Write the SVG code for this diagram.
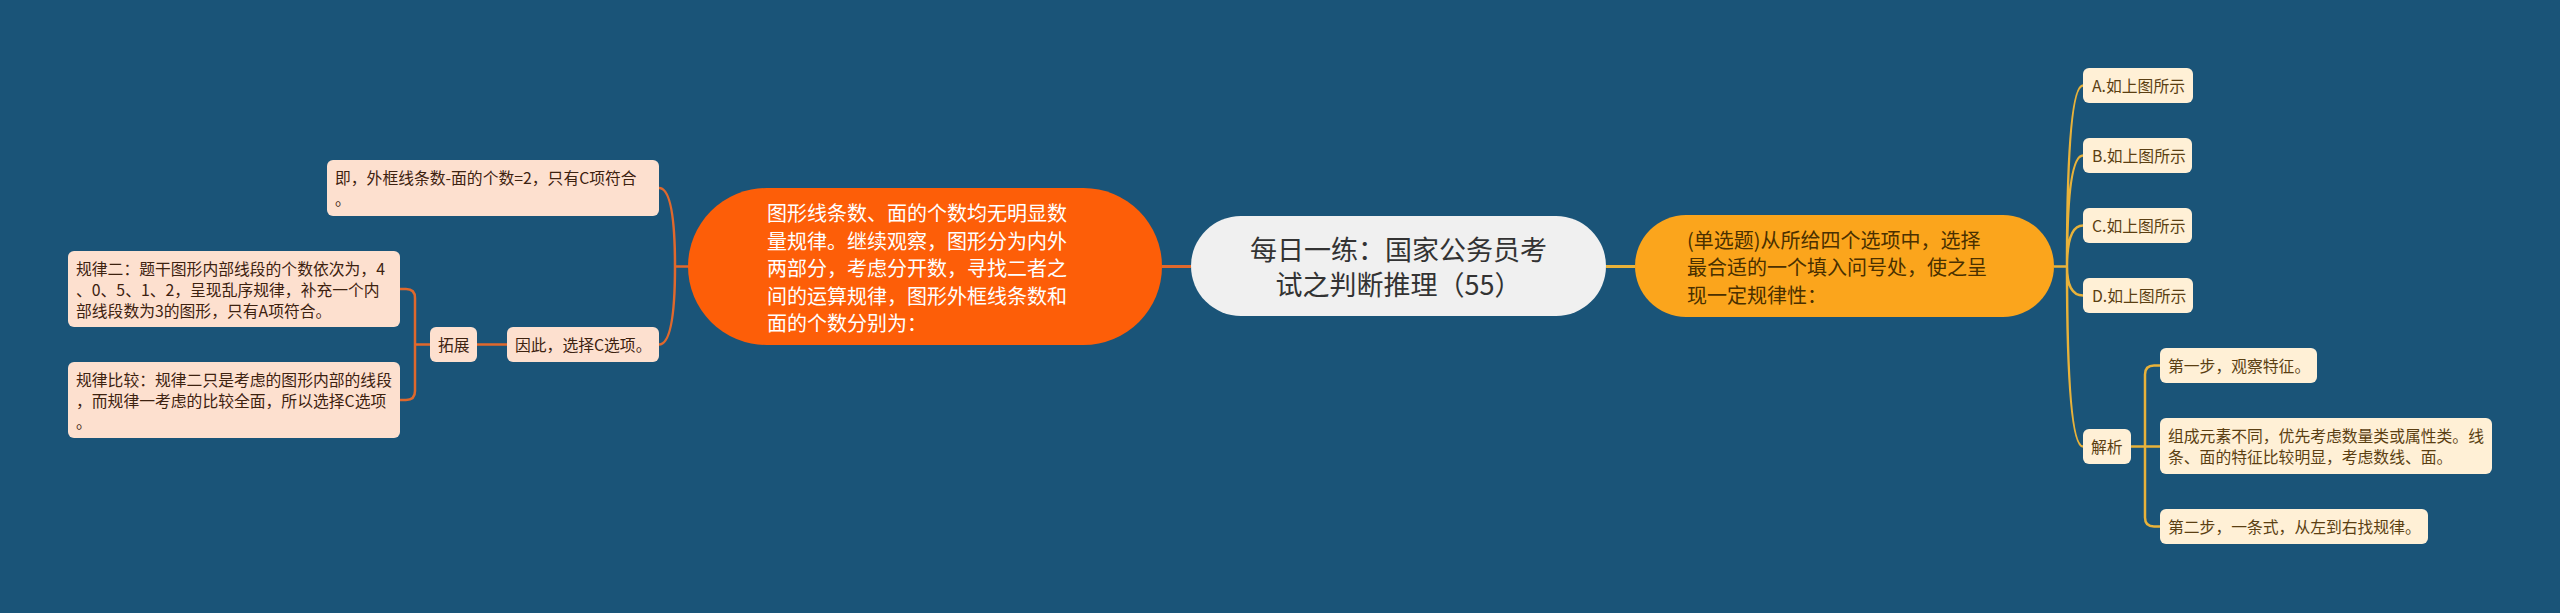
<svg xmlns="http://www.w3.org/2000/svg" width="2560" height="613" viewBox="0 0 2560 613">
<style>
text{font-family:"Noto Sans CJK SC","Microsoft YaHei",sans-serif}
.lo{fill:none;stroke:#e0682c;stroke-width:2.5}
.ly{fill:none;stroke:#e8b23a;stroke-width:2.5}
.bl{fill:#fde0cf}
.br{fill:#fff0d6}
.tl{font-size:15.8px;fill:#3d2210}
.tr{font-size:15.8px;fill:#5b3f12}
</style>
<rect width="2560" height="613" fill="#1a5478"/>
<g id="connectors">
<path class="lo" d="M1162 266.5H1191" style="stroke-width:3"/>
<path class="ly" d="M1606 266.5H1635" style="stroke-width:3"/>
<path class="lo" d="M688 266.5H675M675 266.5Q675 188 659 188M675 266.5Q675 344.5 659 344.5"/>
<path class="lo" d="M507 344.5H477"/>
<path class="lo" d="M430 344.5H415M415 344.5V298Q415 289 406 289H400M415 344.5V391Q415 400 406 400H400"/>
<path class="ly" d="M2054 266.5H2067M2067 266.5Q2067 85.5 2083 85.5M2067 266.5Q2067 155.5 2083 155.5M2067 266.5Q2067 225.5 2083 225.5M2067 266.5Q2067 295.5 2083 295.5M2067 266.5Q2067 446.5 2083 446.5"/>
<path class="ly" d="M2131 446.5H2160M2145 446.5V374.5Q2145 365.5 2154 365.5H2160M2145 446.5V517.5Q2145 526.5 2154 526.5H2160"/>
</g>
<g id="center">
<rect x="1191" y="216" width="415" height="100" rx="50" fill="#f0f0f0"/>
<text x="1398.5" y="260" font-size="27" fill="#333" text-anchor="middle">每日一练：国家公务员考</text>
<text x="1398.5" y="295" font-size="27" fill="#333" text-anchor="middle">试之判断推理（55）</text>
</g>
<g id="left-main">
<rect x="688" y="188" width="474" height="157" rx="78.5" fill="#fd5e08"/>
<text font-size="20" fill="#fff"><tspan x="767" y="221">图形线条数、面的个数均无明显数</tspan><tspan x="767" y="248.5">量规律。继续观察，图形分为内外</tspan><tspan x="767" y="276">两部分，考虑分开数，寻找二者之</tspan><tspan x="767" y="303.5">间的运算规律，图形外框线条数和</tspan><tspan x="767" y="331">面的个数分别为：</tspan></text>
</g>
<g id="node-ji">
<rect class="bl" x="327" y="160" width="332" height="56" rx="6"/>
<text class="tl"><tspan x="335" y="183.5">即，外框线条数-面的个数=2，只有C项符合</tspan><tspan x="335" y="204.5">。</tspan></text>
</g>
<g id="node-yinci">
<rect class="bl" x="507" y="327" width="152" height="35" rx="6"/>
<text class="tl" x="515" y="350.5">因此，选择C选项。</text>
</g>
<g id="node-tuozhan">
<rect class="bl" x="430" y="327" width="47" height="35" rx="6"/>
<text class="tl" x="438" y="350.5">拓展</text>
</g>
<g id="node-guilv2">
<rect class="bl" x="68" y="251" width="332" height="76" rx="6"/>
<text class="tl"><tspan x="76" y="274.5">规律二：题干图形内部线段的个数依次为，4</tspan><tspan x="76" y="295.5">、0、5、1、2，呈现乱序规律，补充一个内</tspan><tspan x="76" y="316.5">部线段数为3的图形，只有A项符合。</tspan></text>
</g>
<g id="node-bijiao">
<rect class="bl" x="68" y="362" width="332" height="76" rx="6"/>
<text class="tl"><tspan x="76" y="385.5">规律比较：规律二只是考虑的图形内部的线段</tspan><tspan x="76" y="406.5">，而规律一考虑的比较全面，所以选择C选项</tspan><tspan x="76" y="427.5">。</tspan></text>
</g>
<g id="right-main">
<rect x="1635" y="215" width="419" height="102" rx="51" fill="#fba51c"/>
<text font-size="20" fill="#4a3000"><tspan x="1687" y="247.6">(单选题)从所给四个选项中，选择</tspan><tspan x="1687" y="275.1">最合适的一个填入问号处，使之呈</tspan><tspan x="1687" y="302.6">现一定规律性：</tspan></text>
</g>
<g id="node-a">
<rect class="br" x="2083" y="68" width="110" height="35" rx="6"/>
<text class="tr" x="2092" y="91.5">A.如上图所示</text>
</g>
<g id="node-b">
<rect class="br" x="2083" y="138" width="109" height="35" rx="6"/>
<text class="tr" x="2092" y="161.5">B.如上图所示</text>
</g>
<g id="node-c">
<rect class="br" x="2083" y="208" width="109" height="35" rx="6"/>
<text class="tr" x="2092" y="231.5">C.如上图所示</text>
</g>
<g id="node-d">
<rect class="br" x="2083" y="278" width="110" height="35" rx="6"/>
<text class="tr" x="2092" y="301.5">D.如上图所示</text>
</g>
<g id="node-jiexi">
<rect class="br" x="2083" y="429" width="48" height="35" rx="6"/>
<text class="tr" x="2091" y="452.5">解析</text>
</g>
<g id="node-step1">
<rect class="br" x="2160" y="348" width="157" height="35" rx="6"/>
<text class="tr" x="2168" y="371.5">第一步，观察特征。</text>
</g>
<g id="node-zucheng">
<rect class="br" x="2160" y="418" width="332" height="56" rx="6"/>
<text class="tr"><tspan x="2168" y="441.5">组成元素不同，优先考虑数量类或属性类。线</tspan><tspan x="2168" y="462.5">条、面的特征比较明显，考虑数线、面。</tspan></text>
</g>
<g id="node-step2">
<rect class="br" x="2160" y="509" width="268" height="35" rx="6"/>
<text class="tr" x="2168" y="532.5">第二步，一条式，从左到右找规律。</text>
</g>
</svg>
